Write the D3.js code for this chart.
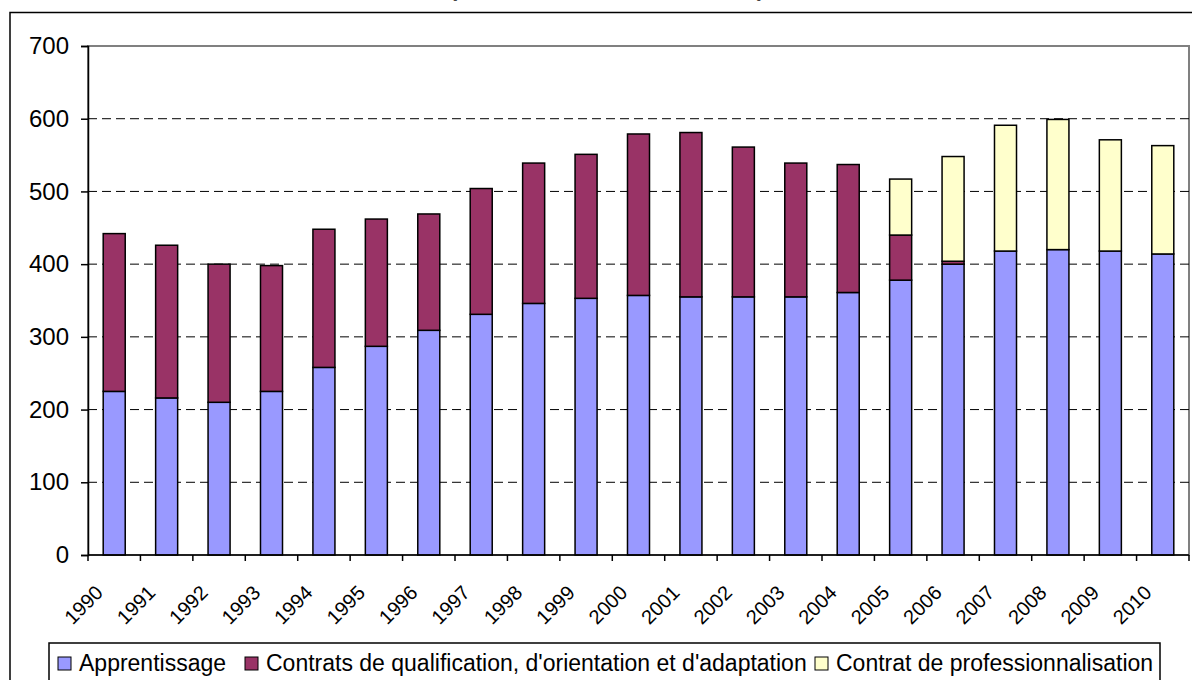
<!DOCTYPE html>
<html>
<head>
<meta charset="utf-8">
<script src="https://cdn.jsdelivr.net/npm/d3@7"></script>
<style>
  html, body { margin: 0; padding: 0; background: #fff; }
  svg { display: block; font-family: Arial, "Liberation Sans", sans-serif; }
</style>
</head>
<body>
<svg id="chart" width="1192" height="680"></svg>
<script>
// Entrées en alternance par année (milliers)
const years = ["1990","1991","1992","1993","1994","1995","1996","1997","1998","1999","2000",
               "2001","2002","2003","2004","2005","2006","2007","2008","2009","2010"];
const apprentissage = [225,216,210,225,258,287,309,331,346,353,357,355,355,355,361,378,400,418,420,418,414];
const contratsQOA   = [217,210,190,173,190,175,160,173,193,198,222,226,206,184,176,62,4,0,0,0,0];
const contratPro    = [0,0,0,0,0,0,0,0,0,0,0,0,0,0,0,77,144,173,179,153,149];
const seriesNames = ["Apprentissage", "Contrats de qualification, d'orientation et d'adaptation", "Contrat de professionnalisation"];
const seriesColors = ["#9999FF", "#993366", "#FFFFCC"];
const yTicks = [0,100,200,300,400,500,600,700];

const svg = d3.select("#chart");

// outer frame
svg.append("rect")
  .attr("x", 10).attr("y", 12.5).attr("width", 1200).attr("height", 700)
  .attr("fill", "#fff").attr("stroke", "#000").attr("stroke-width", 1.5);

// title (sits above the frame, only its lowest strokes reach the page)
svg.append("text")
  .attr("x", 607).attr("y", -1.8)
  .attr("text-anchor", "middle")
  .attr("font-size", 17).attr("font-weight", "bold")
  .attr("fill", "#444")
  .attr("textLength", 314).attr("lengthAdjust", "spacingAndGlyphs")
  .text("(Entrées annuelles en milliers)");

const plot = { left: 88, right: 1189, top: 46, bottom: 555 };

const x = d3.scaleBand().domain(years)
  .range([plot.left, plot.right])
  .paddingInner(0.58).paddingOuter(0.29);
const y = d3.scaleLinear().domain([0, 700]).range([plot.bottom, plot.top]);

// plot area background and border
svg.append("rect")
  .attr("x", plot.left).attr("y", plot.top)
  .attr("width", plot.right - plot.left).attr("height", plot.bottom - plot.top)
  .attr("fill", "#fff").attr("stroke", "#808080").attr("stroke-width", 2);

// dashed gridlines
svg.append("g").selectAll("line")
  .data(yTicks.filter(d => d > 0 && d < 700))
  .join("line")
  .attr("x1", plot.left).attr("x2", plot.right)
  .attr("y1", d => y(d)).attr("y2", d => y(d))
  .attr("stroke", "#000").attr("stroke-width", 1)
  .attr("stroke-dasharray", "9,5");

// stacked bars
const table = years.map((yr, i) => ({
  year: yr, a: apprentissage[i], b: contratsQOA[i], c: contratPro[i]
}));
const stack = d3.stack().keys(["a", "b", "c"]);
const layers = stack(table);

svg.append("g").selectAll("g")
  .data(layers)
  .join("g")
  .attr("fill", (d, i) => seriesColors[i])
  .selectAll("rect")
  .data(d => d.filter(s => s[1] - s[0] > 0))
  .join("rect")
  .attr("x", d => x(d.data.year))
  .attr("width", x.bandwidth())
  .attr("y", d => y(d[1]))
  .attr("height", d => y(d[0]) - y(d[1]))
  .attr("stroke", "#000").attr("stroke-width", 1.5);

// y axis
const yAxis = svg.append("g")
  .attr("transform", `translate(${plot.left},0)`)
  .call(d3.axisLeft(y).tickValues(yTicks).tickSize(7).tickPadding(12).tickFormat(d3.format("d")));
yAxis.select(".domain").attr("stroke", "#000").attr("stroke-width", 1.5);
yAxis.selectAll(".tick line").attr("stroke", "#000").attr("stroke-width", 1.5);
yAxis.selectAll(".tick text").attr("font-size", 24).attr("font-family", "Arial, 'Liberation Sans', sans-serif").attr("fill", "#000");

// x axis line and category boundary ticks
const step = x.step();
const gap = step - x.bandwidth();
const boundaries = years.map(yr => x(yr) - gap / 2).concat([x(years[years.length - 1]) + x.bandwidth() + gap / 2]);
const xg = svg.append("g");
xg.append("line")
  .attr("x1", plot.left).attr("x2", plot.right)
  .attr("y1", plot.bottom).attr("y2", plot.bottom)
  .attr("stroke", "#000").attr("stroke-width", 1.5);
xg.selectAll("line.tk")
  .data(boundaries)
  .join("line").attr("class", "tk")
  .attr("x1", d => d).attr("x2", d => d)
  .attr("y1", plot.bottom).attr("y2", plot.bottom + 6)
  .attr("stroke", "#000").attr("stroke-width", 1.5);

// rotated year labels
xg.selectAll("text")
  .data(years)
  .join("text")
  .attr("transform", d => `translate(${x(d) + x.bandwidth() / 2 - 10},${plot.bottom + 39}) rotate(-45)`)
  .attr("text-anchor", "end")
  .attr("font-size", 20)
  .text(d => d);

// legend
const legend = svg.append("g");
legend.append("rect")
  .attr("x", 49).attr("y", 643).attr("width", 1111).attr("height", 60)
  .attr("fill", "#fff").attr("stroke", "#000").attr("stroke-width", 1.5);

const legendX = [58, 245, 815];
const items = legend.selectAll("g.item")
  .data(seriesNames)
  .join("g").attr("class", "item")
  .attr("transform", (d, i) => `translate(${legendX[i]},657)`);
items.append("rect")
  .attr("width", 13).attr("height", 13)
  .attr("fill", (d, i) => seriesColors[i])
  .attr("stroke", "#000").attr("stroke-width", 1);
items.append("text")
  .attr("x", 21).attr("y", 14)
  .attr("font-size", 23)
  .text(d => d);
</script>
</body>
</html>
